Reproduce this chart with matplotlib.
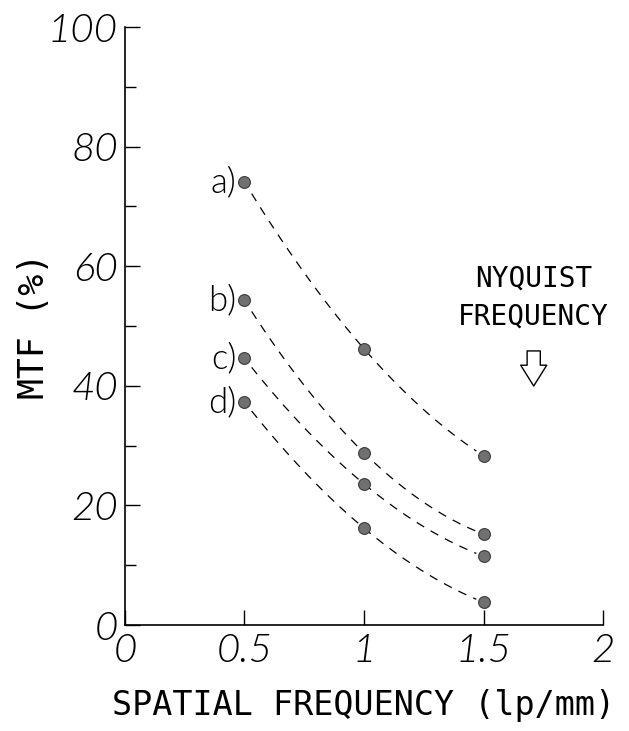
"""MTF versus spatial frequency, four detector settings"""
import matplotlib
matplotlib.use("Agg")
import matplotlib.pyplot as plt
import numpy as np

# data
freq = [0.5, 1.0, 1.5]
mtf_a = [74.1, 46.2, 28.3]
mtf_b = [54.3, 28.8, 15.2]
mtf_c = [44.6, 23.6, 11.5]
mtf_d = [37.3, 16.2, 3.8]
series_names = ["a)", "b)", "c)", "d)"]
nyquist = 1.71

x_ticks = [0, 0.5, 1, 1.5, 2]
x_ticklabels = ["0", "0.5", "1", "1.5", "2"]
y_ticks = [0, 20, 40, 60, 80, 100]

num_font = ["Lato", "DejaVu Sans"]
txt_font = "DejaVu Sans Mono"

fig = plt.figure(figsize=(6.29, 7.31), dpi=100)
ax = fig.add_axes([0.1987, 0.145, 0.76, 0.818])

for name, vals in zip(series_names, [mtf_a, mtf_b, mtf_c, mtf_d]):
    # smooth curve through the three measured points
    coef = np.polyfit(freq, vals, 2)
    xs = np.linspace(freq[0] + 0.03, freq[-1] - 0.03, 100)
    ax.plot(xs, np.polyval(coef, xs), color="black", lw=0.9,
            dashes=(7, 6))
    ax.plot(freq, vals, "o", ms=8.5, mfc="#707070", mec="#3a3a3a", mew=0.8)
    ax.annotate(name, (freq[0], vals[0]), xytext=(-6, 0),
                textcoords="offset points", ha="right", va="center",
                fontsize=25, family=num_font, fontweight=300)

ax.set_xlim(0, 2)
ax.set_ylim(0, 100)
ax.spines["top"].set_visible(False)
ax.spines["right"].set_visible(False)
ax.spines["left"].set_linewidth(1.2)
ax.spines["bottom"].set_linewidth(1.2)

ax.set_xticks(x_ticks)
ax.set_xticklabels(x_ticklabels)
ax.set_yticks(y_ticks)
ax.set_yticks([10, 30, 50, 70, 90], minor=True)
ax.tick_params(axis="both", which="major", direction="in", length=11,
               width=1.0, labelsize=29)
ax.tick_params(axis="y", which="minor", direction="in", length=8, width=1.0)
ax.tick_params(axis="y", which="major", pad=5)
ax.tick_params(axis="x", which="major", pad=6)
for lab in ax.get_xticklabels() + ax.get_yticklabels():
    lab.set_family(num_font)
    lab.set_style("italic")
    lab.set_fontweight(300)

ax.set_xlabel("SPATIAL FREQUENCY (lp/mm)", fontsize=24, family=txt_font,
              labelpad=14)
fig.text(34 / 629, 1 - 326 / 731, "MTF (%)", rotation=90, ha="center",
         va="center", fontsize=25, family=txt_font)

# Nyquist marker
ax.text(nyquist, 54.7, "NYQUIST\nFREQUENCY", ha="center", va="center",
        fontsize=20, family=txt_font, linespacing=1.45)
ax.annotate("", xy=(nyquist, 39.5), xytext=(nyquist, 46.3),
            arrowprops=dict(arrowstyle="simple,head_length=0.6,head_width=0.75,tail_width=0.38",
                            mutation_scale=25, fc="white", ec="black", lw=1.0))

plt.savefig("out.png", dpi=100)
